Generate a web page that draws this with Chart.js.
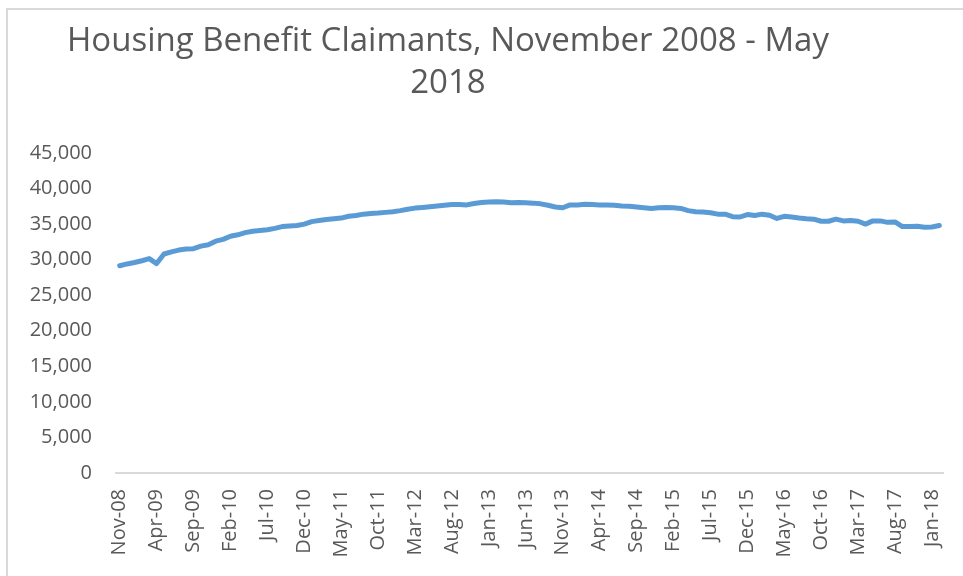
<!DOCTYPE html>
<html>
<head>
<meta charset="utf-8">
<script src="https://cdn.jsdelivr.net/npm/chart.js@4/dist/chart.umd.min.js"></script>
<style>
  html, body { margin: 0; padding: 0; background: #fff; overflow: hidden; }
  #wrap { position: relative; width: 963px; height: 576px; }
  #frame { position: absolute; left: 6px; top: 8px; width: 1000px; height: 600px; border: 2px solid #d9d9d9; box-sizing: border-box; }
  #title { position: absolute; left: 48px; width: 800px; top: 18px; text-align: center;
           font-family: "Open Sans", sans-serif; font-weight: 400; font-size: 33px; line-height: 42px; color: #595959; }
  #mychart { position: absolute; left: 0; top: 0; }
</style>
</head>
<body>
<div id="wrap">
  <div id="frame"></div>
  <canvas id="mychart" width="963" height="576"></canvas>
  <div id="title">Housing Benefit Claimants, November 2008 - May<br>2018</div>
</div>
<script>
// months from Nov-08, one label per point
var bulan = ["Jan", "Feb", "Mar", "Apr", "May", "Jun", "Jul", "Aug", "Sep", "Oct", "Nov", "Dec"];
var labels = [];
for (var i = 0; i < 112; i++) {
  var m = (10 + i) % 12;
  var y = 8 + Math.floor((10 + i) / 12);
  labels.push(bulan[m] + "-" + (y < 10 ? "0" + y : y));
}

// claimants per month
var claimants = [
  29150, 29400, 29600, 29850, 30150, 29450, 30800, 31100, 31350, 31500,
  31550, 31900, 32100, 32600, 32850, 33300, 33500, 33800, 34000, 34100,
  34200, 34400, 34650, 34750, 34800, 35000, 35350, 35500, 35650, 35750,
  35850, 36100, 36200, 36400, 36500, 36550, 36650, 36750, 36900, 37100,
  37250, 37350, 37450, 37550, 37650, 37750, 37750, 37700, 37900, 38050,
  38100, 38150, 38100, 38000, 38050, 38000, 37950, 37850, 37650, 37400,
  37300, 37700, 37700, 37800, 37750, 37700, 37700, 37650, 37550, 37500,
  37400, 37300, 37200, 37300, 37350, 37300, 37200, 36900, 36750, 36700,
  36600, 36400, 36400, 36050, 36000, 36350, 36200, 36400, 36250, 35800,
  36100, 36000, 35850, 35750, 35700, 35400, 35400, 35700, 35450, 35500,
  35400, 35000, 35450, 35450, 35250, 35300, 34650, 34650, 34700, 34550,
  34600, 34800
];

var yMax = 45000;
var yStep = 5000;

var abu = '#595959';
var garis = '#d9d9d9';
var biru = '#5b9bd5';

var ctx = document.getElementById("mychart").getContext('2d');
var myChart = new Chart(ctx, {
  type: 'line',
  data: {
    labels: labels,
    datasets: [{
      label: 'Housing Benefit Claimants',
      data: claimants,
      borderColor: biru,
      borderWidth: 5,
      borderJoinStyle: 'round',
      borderCapStyle: 'round',
      pointRadius: 0,
      tension: 0,
      fill: false
    }]
  },
  options: {
    responsive: false,
    animation: false,
    layout: { padding: { top: 153, right: 20, left: 0, bottom: 0 } },
    plugins: {
      legend: { display: false },
      tooltip: { enabled: false }
    },
    scales: {
      x: {
        offset: true,
        grid: { display: false, drawTicks: false },
        border: { display: true, color: garis, width: 2 },
        ticks: {
          autoSkip: false,
          maxRotation: 90,
          minRotation: 90,
          padding: 16,
          color: abu,
          font: { family: 'Open Sans', size: 20 },
          callback: function (val, idx) {
            return idx % 5 === 0 ? this.getLabelForValue(val) : '';
          }
        },
        afterFit: function (scale) {
          scale.height = 103;
          scale.paddingLeft = 0;
          scale.paddingRight = 0;
        }
      },
      y: {
        min: 0,
        max: yMax,
        grid: { display: false, drawTicks: false },
        border: { display: false },
        ticks: {
          stepSize: yStep,
          padding: 24,
          color: abu,
          font: { family: 'Open Sans', size: 20 },
          callback: function (val) { return val.toLocaleString('en-US'); }
        },
        afterFit: function (scale) {
          scale.width = 116;
          scale.paddingTop = 0;
          scale.paddingBottom = 0;
        }
      }
    }
  }
});
</script>
</body>
</html>
